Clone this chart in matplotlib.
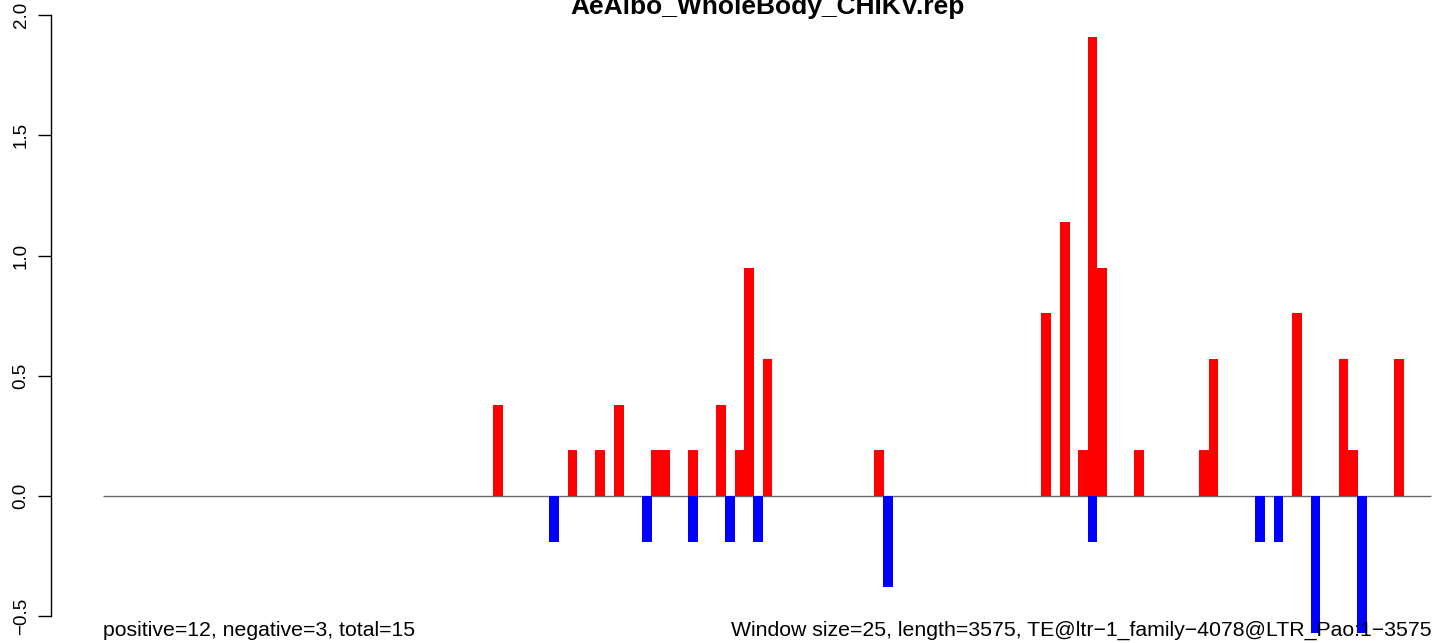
import matplotlib
matplotlib.use("Agg")
import matplotlib.pyplot as plt
import numpy as np

# window size / sequence length
window = 25
seq_len = 3575
title = "AeAlbo_WholeBody_CHIKV.rep"

# positive strand windows (window index) and values
pos_win = [42, 50, 53, 55, 59, 60, 63, 66, 68, 69, 71, 83, 101, 103, 105, 106, 107,
           111, 118, 119, 128, 133, 134, 139]
pos_val = [0.38, 0.19, 0.19, 0.38, 0.19, 0.19, 0.19, 0.38, 0.19, 0.95, 0.57, 0.19,
           0.76, 1.14, 0.19, 1.91, 0.95, 0.19, 0.19, 0.57, 0.76, 0.57, 0.19, 0.57]

# negative strand windows and values
neg_win = [48, 58, 63, 67, 70, 84, 106, 124, 126, 130, 135]
neg_val = [-0.19, -0.19, -0.19, -0.19, -0.19, -0.38, -0.19, -0.19, -0.19, -0.57, -0.57]

yticks = [-0.5, 0.0, 0.5, 1.0, 1.5, 2.0]

plt.rcParams['font.family'] = ['Liberation Sans', 'DejaVu Sans']

W, H = 1444, 643
fig = plt.figure(figsize=(W / 100, H / 100), dpi=100)

# plot region in pixels (R style, partly outside the device)
xlim = (-140, 3719)
ylim = (-0.7, 2.02)
left_px, right_px = 51, 1485
top_px, bot_px = 10.2, 664.4
ax = fig.add_axes([left_px / W, (H - bot_px) / H, (right_px - left_px) / W, (bot_px - top_px) / H])
ax.set_xlim(*xlim)
ax.set_ylim(*ylim)
ax.patch.set_alpha(0)

ax.hlines(0, 0, seq_len, color="#666666", lw=1, zorder=1)
ax.bar(np.array(pos_win) * window, pos_val, width=26, align="edge", color="#ff0000", lw=0, zorder=2)
ax.bar(np.array(neg_win) * window, neg_val, width=26, align="edge", color="#0000ff", lw=0, zorder=2)

for s in ["top", "right", "bottom"]:
    ax.spines[s].set_visible(False)
ax.spines["left"].set_bounds(-0.5, 2.0)
ax.spines["left"].set_linewidth(1)
ax.set_xticks([])
ax.set_yticks(yticks)
ax.set_yticklabels([f"{v:.1f}".replace("-", "\u2212") for v in yticks], rotation=90, va="center", fontsize=13.5)
ax.tick_params(axis="y", length=9.4, width=1, pad=6)

fig.text(768 / W, 1 - 14 / H, title, ha="center", va="baseline", fontsize=19, fontweight="bold")
fig.text(103 / W, 1 - 636 / H, "positive=12, negative=3, total=15", ha="left", va="baseline", fontsize=15.3)
fig.text(1432 / W, 1 - 636 / H,
         "Window size=25, length=3575, TE@ltr\u22121_family\u22124078@LTR_Pao:1\u22123575",
         ha="right", va="baseline", fontsize=15.3)

fig.savefig("out.png", dpi=100)
